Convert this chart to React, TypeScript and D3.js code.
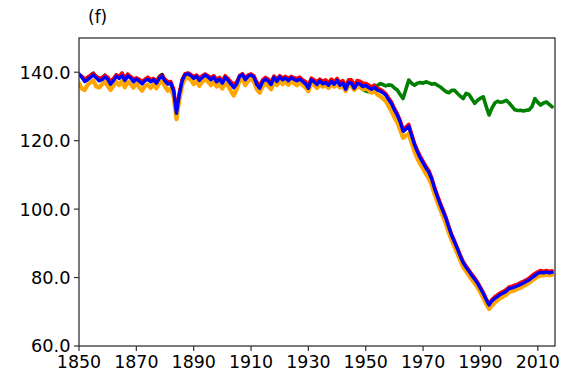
import React from "react";
import * as d3 from "d3";

// Annual series, 1850–2015
const startYear = 1850;

const blackSeries = [
  139.3, 138.8, 137.8, 138.4, 139.2, 139.8, 138.6, 137.8, 138.2, 139.2,
  138.5, 137.0, 137.8, 139.3, 138.5, 139.6, 138.0, 139.5, 138.6, 137.6,
  138.2, 137.8, 137.0, 137.8, 138.4, 137.6, 138.0, 137.4, 138.8, 139.4,
  137.8, 136.8, 137.0, 134.8, 128.4, 133.8, 137.8, 139.5, 139.7, 139.2,
  138.5, 139.0, 138.0, 138.8, 139.4, 138.8, 138.2, 138.8, 137.5, 138.2,
  137.2, 138.8, 137.9, 136.8, 135.8, 136.9, 139.0, 139.5, 138.0, 139.0,
  139.5, 138.8, 136.8, 135.6, 137.4, 138.3, 137.7, 136.7, 138.8, 137.6,
  138.8, 138.0, 138.6, 137.8, 138.6, 138.2, 137.8, 138.3, 137.6, 137.0,
  135.8, 138.0, 137.5, 136.8, 137.8, 137.0, 137.4, 136.6, 137.6, 136.9,
  137.8, 136.6, 137.2, 135.5, 137.3, 137.2, 135.8, 137.0, 136.8, 136.2,
  136.4, 135.6, 135.2, 135.8, 135.0, 134.6, 134.1, 133.4, 132.2, 130.8,
  129.0, 127.3, 125.2, 122.6, 123.3, 124.0, 121.2, 118.5, 116.5, 114.7,
  113.2, 111.7, 110.5, 108.5, 105.6, 103.2, 101.0, 99.1, 96.6, 94.1,
  91.8, 90.0, 88.0, 85.8, 84.0, 82.8, 81.5, 80.4, 79.2, 78.0,
  76.4, 74.9, 73.2, 71.6, 72.7, 73.5, 74.1, 74.7, 75.1, 75.7,
  76.4, 76.6, 76.9, 77.3, 77.7, 78.1, 78.6, 79.0, 79.7, 80.3,
  80.9, 81.2, 81.1, 81.3, 81.1, 81.2,
];

const redSeries = [
  139.2, 138.8, 138.0, 138.6, 139.0, 139.6, 138.9, 138.2, 138.5, 139.0,
  138.6, 137.4, 138.2, 139.2, 138.8, 139.8, 138.4, 139.4, 138.8, 138.0,
  138.4, 138.0, 137.3, 138.0, 138.6, 137.8, 138.2, 137.4, 138.6, 139.0,
  138.0, 137.2, 137.3, 135.2, 128.8, 134.2, 138.0, 139.6, 139.8, 139.4,
  138.8, 139.2, 138.3, 139.0, 139.5, 139.0, 138.5, 139.0, 138.0, 138.5,
  137.5, 139.0, 138.2, 137.2, 136.4, 137.2, 139.0, 139.6, 138.4, 139.2,
  139.5, 139.0, 137.2, 136.0, 137.8, 138.5, 138.0, 137.2, 138.9, 138.0,
  139.0, 138.4, 138.8, 138.2, 138.8, 138.4, 138.2, 138.6, 137.8, 137.3,
  136.2, 138.3, 137.8, 137.2, 138.0, 137.4, 137.8, 137.0, 138.0, 137.3,
  138.2, 137.0, 137.6, 136.0, 137.8, 137.8, 136.3, 137.6, 137.4, 136.8,
  136.8, 136.3, 135.8, 136.2, 135.4, 135.0, 134.5, 133.8, 132.5, 131.3,
  129.5, 128.0, 126.0, 123.4, 124.0, 124.8, 122.0, 119.3, 117.3, 115.5,
  114.0, 112.5, 111.3, 109.3, 106.5, 104.1, 101.8, 99.8, 97.6, 95.0,
  92.6, 90.7, 88.7, 86.6, 84.7, 83.4, 82.2, 81.0, 79.9, 78.7,
  77.2, 75.7, 73.9, 72.3, 73.6, 74.4, 75.0, 75.6, 76.0, 76.5,
  77.3, 77.5, 77.8, 78.1, 78.6, 78.9, 79.4, 79.9, 80.6, 81.2,
  81.7, 82.1, 81.8, 82.1, 81.8, 82.0,
];

const orangeSeries = [
  136.8, 135.2, 134.8, 136.3, 137.0, 137.6, 135.8, 135.5, 136.4, 137.2,
  136.0, 134.8, 136.0, 137.2, 136.2, 137.5, 135.6, 137.3, 136.5, 135.5,
  136.8, 135.6, 134.6, 136.0, 136.4, 135.4, 136.5, 135.3, 136.8, 137.5,
  135.8, 134.6, 135.3, 132.8, 126.3, 132.0, 136.2, 138.2, 138.4, 137.8,
  136.5, 137.5, 136.0, 137.2, 138.0, 137.2, 136.2, 137.3, 135.8, 136.5,
  135.2, 137.0, 136.0, 134.5, 133.2, 135.0, 137.5, 138.2, 136.2, 137.5,
  138.0, 137.2, 135.0, 134.0, 135.8, 136.8, 136.0, 135.0, 137.2, 136.2,
  137.5, 136.5, 137.2, 136.3, 137.3, 136.8, 136.2, 137.0, 136.2, 135.5,
  134.5, 136.8, 136.2, 135.4, 136.5, 135.8, 136.2, 135.4, 136.5, 135.8,
  136.5, 135.5, 136.0, 134.5, 136.0, 136.0, 134.8, 135.8, 135.6, 135.0,
  135.2, 134.8, 134.0, 134.5, 133.5, 133.0, 132.3, 131.5, 130.0, 128.5,
  126.8, 125.3, 123.2, 120.8, 121.5, 122.0, 119.3, 116.8, 114.8, 113.2,
  111.8, 110.3, 109.0, 107.0, 104.3, 102.0, 99.8, 97.8, 95.5, 93.0,
  90.8, 88.9, 86.9, 84.9, 83.0, 81.8, 80.6, 79.4, 78.3, 77.1,
  75.6, 74.0, 72.3, 70.8, 71.8, 72.7, 73.4, 74.0, 74.5, 75.0,
  75.8, 76.0, 76.3, 76.7, 77.0, 77.5, 78.0, 78.5, 79.1, 79.7,
  80.3, 80.6, 80.6, 80.8, 80.7, 80.8,
];

const blueSeries = [
  139.5, 138.5, 137.3, 137.8, 138.5, 139.2, 138.4, 137.5, 137.8, 138.6,
  138.0, 136.5, 137.5, 138.8, 138.2, 139.0, 137.6, 138.9, 138.3, 137.2,
  138.0, 137.4, 136.6, 137.5, 137.9, 137.2, 137.8, 136.8, 138.2, 138.8,
  137.4, 136.5, 136.8, 134.5, 128.0, 133.5, 137.5, 139.3, 139.5, 139.0,
  138.2, 138.8, 137.6, 138.5, 139.2, 138.6, 137.8, 138.6, 137.2, 137.9,
  136.8, 138.5, 137.6, 136.5, 135.5, 136.6, 138.8, 139.3, 137.8, 138.8,
  139.2, 138.6, 136.4, 135.3, 137.2, 138.0, 137.4, 136.4, 138.5, 137.3,
  138.6, 137.8, 138.3, 137.5, 138.4, 137.9, 137.5, 138.0, 137.3, 136.6,
  135.3, 137.8, 137.2, 136.4, 137.5, 136.6, 137.0, 136.2, 137.3, 136.5,
  137.6, 136.2, 136.8, 135.0, 137.0, 136.8, 135.3, 136.7, 136.5, 135.8,
  136.2, 135.5, 135.0, 135.6, 134.8, 134.5, 134.0, 133.3, 132.0, 130.8,
  129.0, 127.5, 125.5, 122.8, 123.5, 124.2, 121.5, 118.8, 116.8, 115.0,
  113.5, 112.0, 110.8, 108.8, 106.0, 103.6, 101.3, 99.3, 97.2, 94.6,
  92.2, 90.3, 88.3, 86.2, 84.3, 83.0, 81.8, 80.6, 79.5, 78.3,
  76.8, 75.3, 73.6, 72.0, 73.2, 73.9, 74.5, 75.1, 75.5, 76.0,
  76.8, 77.0, 77.3, 77.6, 78.0, 78.4, 78.9, 79.3, 80.0, 80.6,
  81.2, 81.5, 81.4, 81.6, 81.4, 81.5,
];

// Green series runs 1948–2015
const greenStartYear = 1948;
const greenSeries = [
  136.0, 135.0,
  134.5, 134.3, 135.5, 136.2, 136.0, 136.7, 136.4, 136.0, 136.3, 136.2,
  135.4, 134.8, 133.5, 132.3, 135.0, 137.7, 136.8, 136.2, 136.8, 137.0,
  136.8, 137.2, 136.9, 136.5, 136.7, 136.2, 135.7, 135.0, 134.3, 134.0,
  134.7, 134.7, 133.8, 133.0, 132.3, 133.8, 133.5, 132.2, 130.9, 131.8,
  132.4, 132.8, 130.0, 127.5, 129.5, 131.0, 131.5, 131.2, 131.4, 131.8,
  131.0, 130.0, 129.0, 128.8, 128.9, 128.7, 128.9, 129.0, 130.0, 132.3,
  131.2, 130.4, 131.0, 131.3, 130.6, 129.9,
];

const xTicks = [1850, 1870, 1890, 1910, 1930, 1950, 1970, 1990, 2010];
const yTicks = [60, 80, 100, 120, 140];

const W = 581;
const H = 377;
const margin = { left: 79, right: 26, top: 38, bottom: 31 };

const FONT = "'DejaVu Sans', sans-serif";

type Pt = [number, number];
const toPoints = (vals: number[], y0: number): Pt[] => vals.map((v, i) => [y0 + i, v]);

export default function App() {
  const x = d3.scaleLinear().domain([1850, 2016]).range([margin.left, W - margin.right]);
  const y = d3.scaleLinear().domain([60, 150]).range([H - margin.bottom, margin.top]);
  const line = d3
    .line<Pt>()
    .x((d) => x(d[0]))
    .y((d) => y(d[1]))
    .curve(d3.curveLinear);

  const series = [
    { key: "green", color: "#008000", width: 3.6, pts: toPoints(greenSeries, greenStartYear) },
    { key: "black", color: "#000000", width: 3, pts: toPoints(blackSeries, startYear) },
    { key: "red", color: "#ff0000", width: 3.4, pts: toPoints(redSeries, startYear) },
    { key: "orange", color: "#ffa500", width: 4.2, pts: toPoints(orangeSeries, startYear) },
    { key: "blue", color: "#0000ff", width: 3.4, pts: toPoints(blueSeries, startYear) },
  ];

  const [x0, x1] = x.range();
  const [yb, yt] = y.range();

  return (
    <svg
      width={W}
      height={H}
      style={{ position: "absolute", left: 0, top: 0, background: "#fff" }}
      fontFamily={FONT}
    >
      <defs>
        <clipPath id="plot-area">
          <rect x={x0} y={yt} width={x1 - x0} height={yb - yt} />
        </clipPath>
      </defs>
      <rect x={0} y={0} width={W} height={H} fill="#fff" />

      <g clipPath="url(#plot-area)">
        {series.map((s) => (
          <path
            key={s.key}
            d={line(s.pts) ?? ""}
            fill="none"
            stroke={s.color}
            strokeWidth={s.width}
            strokeLinejoin="round"
            strokeLinecap="round"
          />
        ))}
      </g>

      {/* frame */}
      <rect x={x0} y={yt} width={x1 - x0} height={yb - yt} fill="none" stroke="#333" strokeWidth={1.3} />

      {/* y axis */}
      {yTicks.map((t) => (
        <g key={t}>
          <line x1={x0 - 5} x2={x0} y1={y(t)} y2={y(t)} stroke="#333" strokeWidth={1.2} />
          <text x={x0 - 8.5} y={y(t)} dy="0.36em" textAnchor="end" fontSize={17.8} fill="#000">
            {t.toFixed(1)}
          </text>
        </g>
      ))}

      {/* x axis */}
      {xTicks.map((t) => (
        <g key={t}>
          <line x1={x(t)} x2={x(t)} y1={yb} y2={yb + 5} stroke="#333" strokeWidth={1.2} />
          <text x={x(t)} y={yb + 21.5} textAnchor="middle" fontSize={17.4} fill="#000">
            {t}
          </text>
        </g>
      ))}

      <text x={88} y={23} fontSize={17} fill="#000">
        (f)
      </text>
    </svg>
  );
}
